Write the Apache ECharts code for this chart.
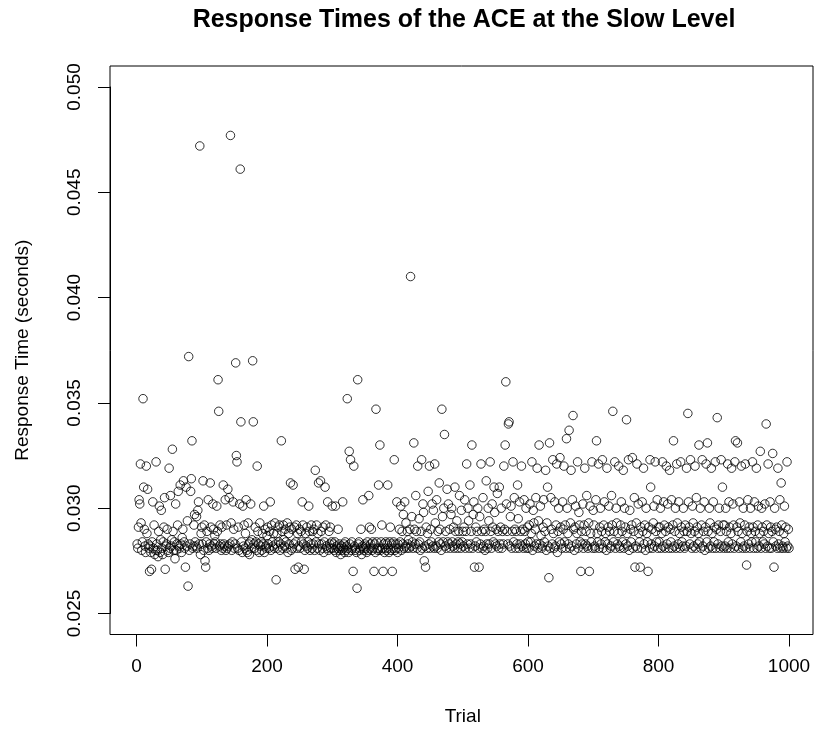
<!DOCTYPE html>
<html><head><meta charset="utf-8">
<script src="https://cdn.jsdelivr.net/npm/echarts@6/dist/echarts.min.js"></script>
<style>html,body{margin:0;padding:0;background:#fff}#c{width:816px;height:732px}</style>
</head><body><div id="c"></div>
<script>
const chartTitle = 'Response Times of the ACE at the Slow Level';
const xName = 'Trial';
const yName = 'Response Time (seconds)';
const xTicks = [0, 200, 400, 600, 800, 1000];
const yTicks = [0.025, 0.030, 0.035, 0.040, 0.045, 0.050];
// response times, in units of 0.1 ms (value / 10000 = seconds)
const rt001 = [283,281,291,304,302,321,293,280,284,352, 310,290,282,279,320,288,309,283,281,270, 282,279,271,284,303,281,292,278,280,322, 283,280,277,289,301,279,285,299,281,278, 284,291,305,271,282,283,290,280,279,319, 281,306,282,285,328,289,280,284,276,302, 280,283,292,308,282,281,311,283,279,286, 290,313,284,281,272,310,282,294,263,372, 280,283,308,314,332,281,282,292,297,284, 282,296,281,299,303,283,472,278,288,291];
const rt101 = [283,313,280,292,275,272,284,289,281,304, 280,283,312,291,282,281,302,290,283,287, 284,281,301,289,361,346,282,292,283,280, 291,281,311,283,282,304,280,292,281,309, 282,305,283,477,293,280,284,303,290,281, 283,369,325,322,281,291,280,302,461,341, 284,279,301,282,292,281,288,304,280,279, 293,283,278,284,302,281,285,370,341,283, 281,291,284,280,320,289,283,279,293,282, 284,280,288,283,301,279,290,282,281,287];
const rt201 = [291,283,281,289,303,280,292,284,282,288, 281,293,283,266,288,281,291,284,292,280, 283,332,289,281,292,285,282,290,284,281, 293,279,288,283,291,312,280,290,281,311, 283,291,271,284,292,281,288,272,282,290, 281,289,284,303,292,283,271,280,288,282, 291,281,284,301,289,280,283,292,281,289, 283,290,280,318,284,292,281,288,312,283, 280,313,289,283,281,291,279,284,310,292, 282,281,303,280,289,283,291,281,284,301];
const rt301 = [281,283,280,284,301,279,282,281,290,280, 283,281,278,282,280,303,281,283,279,284, 280,282,352,281,279,327,283,323,280,284, 281,270,320,282,280,281,279,262,361,283, 284,280,281,290,278,282,304,281,280,283, 282,281,279,284,280,306,291,281,283,290, 280,284,281,270,283,279,347,284,281,280, 311,281,330,280,284,292,281,270,283,279, 281,284,280,283,311,281,279,284,291,280, 283,270,281,284,323,280,283,281,303,279];
const rt401 = [283,281,290,284,301,280,289,283,297,281, 303,282,293,281,289,283,285,281,290,410, 282,296,284,281,331,290,283,306,289,281, 320,283,295,284,280,289,323,281,302,298, 275,282,272,291,281,288,308,283,320,281, 290,284,302,282,299,281,321,293,282,304, 281,289,284,312,290,283,280,347,296,284, 300,335,282,289,281,309,284,302,283,290, 281,297,300,284,282,291,281,310,289,283, 294,281,284,289,306,283,281,299,284,289];
const rt501 = [282,291,304,281,289,321,283,300,294,281, 311,283,289,330,281,297,303,272,282,291, 284,289,300,281,272,296,283,321,289,281, 305,282,290,280,289,313,283,281,300,294, 283,322,289,281,302,291,284,310,298,283, 290,282,307,289,281,310,283,291,300,281, 289,283,320,290,330,360,302,289,283,340, 341,282,296,301,281,289,322,284,305,290, 281,289,283,311,295,281,303,283,289,320, 282,290,281,304,289,283,300,281,291,284];
const rt601 = [281,292,302,284,288,322,280,299,293,282, 290,305,283,319,281,294,330,283,301,287, 281,282,291,304,284,289,318,280,293,310, 282,267,331,281,305,290,283,323,288,281, 303,282,292,321,279,289,300,284,324,291, 283,281,303,290,320,284,292,281,333,300, 288,283,337,281,293,318,282,304,344,290, 280,291,301,283,288,322,281,298,292,284, 270,289,283,302,281,292,319,283,289,306, 282,281,293,270,301,288,284,322,281,299];
const rt701 = [292,282,281,304,332,288,284,321,281,291, 300,283,289,323,281,292,303,284,288,280, 319,283,291,301,289,281,282,306,292,346, 284,289,322,281,300,293,283,288,320,282, 281,292,303,289,284,318,281,300,291,283, 342,288,282,323,280,299,290,284,292,324, 281,289,305,272,282,293,321,281,302,288, 284,272,291,281,303,289,319,283,292,280, 300,288,284,270,291,281,323,310,283,290, 281,293,301,282,322,289,284,304,281,291];
const rt801 = [284,291,300,281,288,322,282,303,292,281, 289,320,283,302,291,281,318,290,284,304, 281,292,332,282,289,300,281,321,293,283, 303,288,281,322,291,284,282,300,289,281, 292,282,319,289,345,303,291,283,323,288, 281,301,293,282,289,320,281,305,291,283, 288,330,284,300,281,292,323,282,289,303, 280,291,321,284,331,289,281,300,293,282, 319,288,281,303,284,291,322,281,290,343, 283,292,300,281,289,323,282,310,292,281];
const rt901 = [292,282,300,289,281,321,284,303,291,281, 288,319,283,302,292,281,322,332,282,291, 331,289,281,303,293,284,320,288,281,300, 282,292,321,281,273,289,304,283,291,281, 300,288,284,322,291,281,303,289,284,319, 281,292,301,282,288,327,281,300,291,284, 289,283,302,281,340,292,282,321,288,281, 303,291,281,289,326,284,272,300,290,282, 291,281,319,283,289,304,281,312,292,282, 281,288,301,284,291,281,322,282,290,281];

const blocks = [rt001, rt101, rt201, rt301, rt401, rt501, rt601, rt701, rt801, rt901];
const points = [];
blocks.forEach((b, bi) => b.forEach((v, i) => points.push([bi * 100 + i + 1, v / 10000])));

const FONT = '"Liberation Sans", Arial, sans-serif';
const chart = echarts.init(document.getElementById('c'), null, {renderer: 'canvas'});
chart.setOption({
  animation: false,
  backgroundColor: '#fff',
  title: {
    text: chartTitle, left: 464, top: 8, textAlign: 'center', padding: 0,
    textStyle: {fontFamily: FONT, fontSize: 25, fontWeight: 'bold', color: '#000'}
  },
  grid: [
    {left: 110, right: 3, top: 66, bottom: 97.5, show: true, borderColor: '#000', borderWidth: 1, backgroundColor: 'transparent'},
    {left: 136.5, right: 27, top: 87, bottom: 118.5}
  ],
  xAxis: [
    {gridIndex: 0, type: 'value', show: false, min: 0, max: 1},
    {gridIndex: 1, type: 'value', min: xTicks[0], max: xTicks[xTicks.length - 1], interval: 200, offset: 21,
     axisLine: {show: true, onZero: false, lineStyle: {color: '#000', width: 1}},
     axisTick: {show: true, length: 12, lineStyle: {color: '#000', width: 1}},
     axisLabel: {fontFamily: FONT, fontSize: 19, color: '#000', margin: 23, formatter: v => String(v)},
     splitLine: {show: false},
     name: xName, nameLocation: 'middle', nameGap: 73,
     nameTextStyle: {fontFamily: FONT, fontSize: 19, color: '#000'}}
  ],
  yAxis: [
    {gridIndex: 0, type: 'value', show: false, min: 0, max: 1},
    {gridIndex: 1, type: 'value', min: yTicks[0], max: yTicks[yTicks.length - 1], interval: 0.005, offset: 26.5,
     axisLine: {show: true, onZero: false, lineStyle: {color: '#000', width: 1}},
     axisTick: {show: true, length: 12, lineStyle: {color: '#000', width: 1}},
     axisLabel: {fontFamily: FONT, fontSize: 19, color: '#000', margin: 26, rotate: 90,
                 formatter: v => v.toFixed(3)},
     splitLine: {show: false},
     name: yName, nameLocation: 'middle', nameGap: 78, nameRotate: 90,
     nameTextStyle: {fontFamily: FONT, fontSize: 19, color: '#000'}}
  ],
  series: [{
    type: 'scatter', xAxisIndex: 1, yAxisIndex: 1, data: points,
    symbol: 'circle', symbolSize: 8.5,
    itemStyle: {color: 'rgba(0,0,0,0)', borderColor: '#000', borderWidth: 1},
    emphasis: {disabled: true}, silent: true
  }]
});
</script></body></html>
